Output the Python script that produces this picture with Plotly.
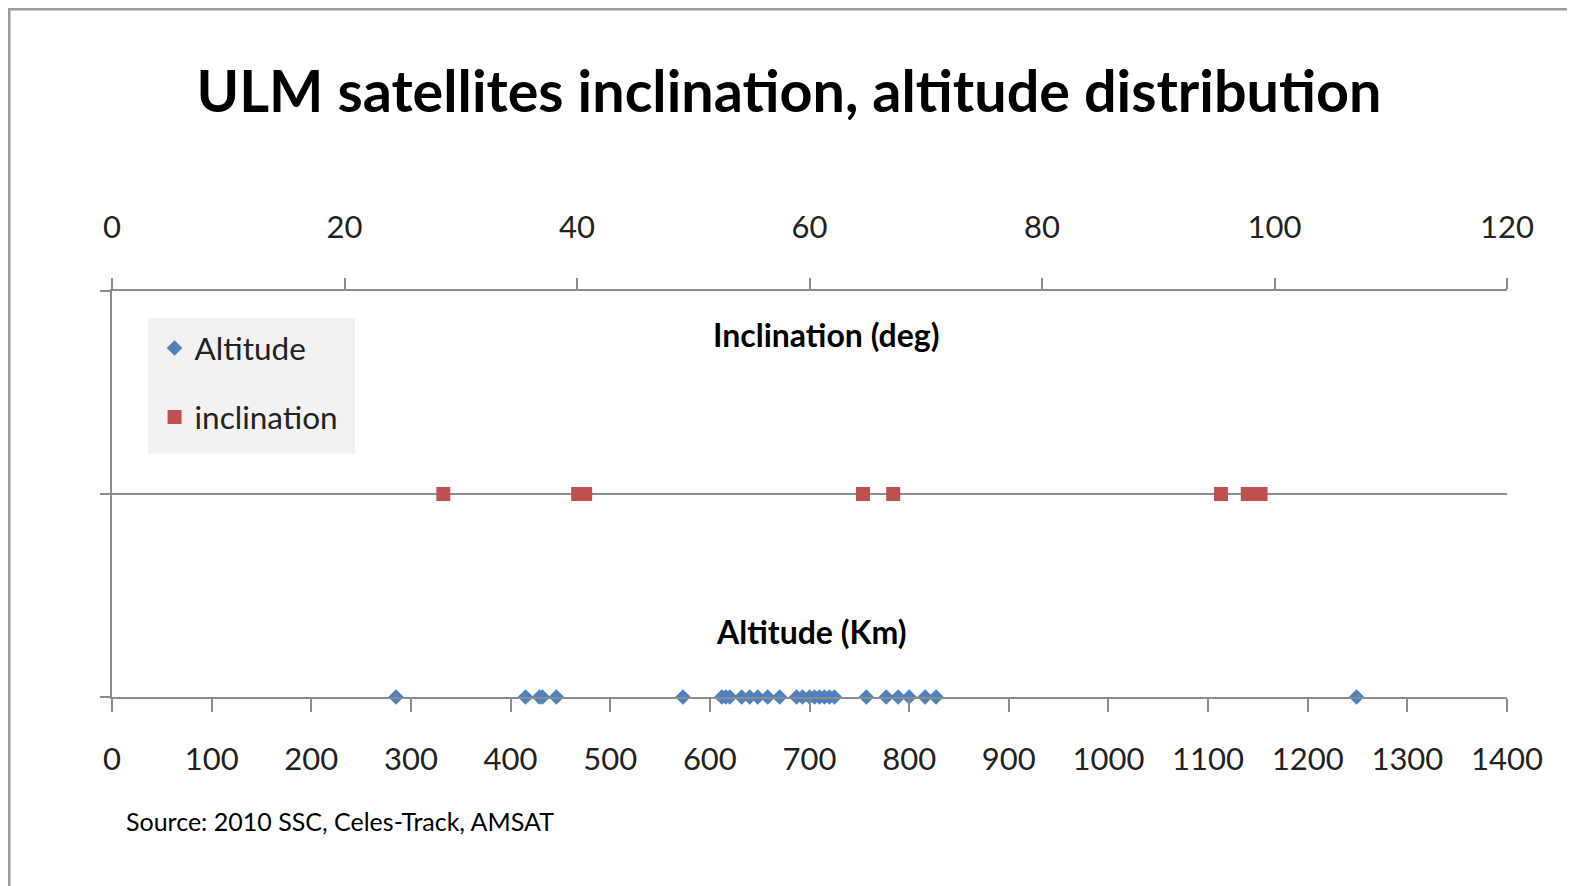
import plotly.graph_objects as go

# Data
altitude_km = [285, 415, 429, 432, 446, 573, 612, 616, 620, 632, 640, 648, 658, 670,
               687, 693, 700, 705, 710, 715, 720, 725, 757, 777, 789, 800, 816, 827, 1249]
altitude_row = [0] * len(altitude_km)
inclination_deg = [28.5, 40.1, 40.7, 64.6, 67.2, 95.4, 97.7, 98.3, 98.8]
inclination_row = [1] * len(inclination_deg)

alt_ticks = list(range(0, 1401, 100))
inc_ticks = list(range(0, 121, 20))

FONT = "Lato"
GRAY = "#8c8c8c"

W, H = 1567, 878
L, R, T, B = 104, 1499, 283, 689   # plot area in pixels


def px(x):
    return (x - L) / (R - L)


def py(y):
    return (B - y) / (B - T)


fig = go.Figure()
fig.add_trace(go.Scatter(
    x=altitude_km, y=altitude_row, mode="markers", name="Altitude",
    marker=dict(symbol="diamond", size=12, color="#4F81BD"),
    xaxis="x", yaxis="y", cliponaxis=False, legendgroup="a"))
fig.add_trace(go.Scatter(
    x=inclination_deg, y=inclination_row, mode="markers", name="inclination",
    marker=dict(symbol="square", size=14, color="#C0504D"),
    xaxis="x2", yaxis="y", cliponaxis=False, legendgroup="b"))

axis_common = dict(showline=True, linecolor=GRAY, linewidth=2, ticks="outside",
                   tickcolor=GRAY, tickwidth=2, showgrid=False, zeroline=False,
                   tickfont=dict(family=FONT, size=31, color="#222"))

fig.update_layout(
    width=W, height=H,
    paper_bgcolor="white", plot_bgcolor="white",
    margin=dict(l=L, r=W - R, t=T, b=H - B),
    title=dict(text="<b>ULM satellites inclination, altitude distribution</b>",
               x=0.4984, xanchor="center", y=0.904, yanchor="middle",
               font=dict(family=FONT, size=57.5, color="black")),
    xaxis=dict(range=[0, 1400], tickvals=alt_ticks, ticklen=13,
               ticklabelstandoff=21, anchor="y", **axis_common),
    xaxis2=dict(range=[0, 120], tickvals=inc_ticks, overlaying="x", side="top",
                ticklen=11, ticklabelstandoff=28, anchor="y", **axis_common),
    yaxis=dict(range=[0, 2], tickvals=[0, 1, 2], showticklabels=False,
               showline=True, linecolor=GRAY, linewidth=2, ticks="outside",
               ticklen=10, tickcolor=GRAY, tickwidth=2, showgrid=True,
               gridcolor=GRAY, gridwidth=2, zeroline=False),
    yaxis2=dict(range=[0, 2], tickvals=[0, 1, 2], showticklabels=False,
                overlaying="y", side="right", anchor="x",
                showline=True, linecolor=GRAY, linewidth=2, ticks="outside",
                ticklen=12, tickcolor=GRAY, tickwidth=2, showgrid=False, zeroline=False),
    legend=dict(x=0.0305, y=0.926, xanchor="left", yanchor="top",
                bgcolor="rgba(0,0,0,0)", font=dict(family=FONT, size=31.5, color="#222"),
                tracegroupgap=25, traceorder="grouped", itemsizing="trace"),
    showlegend=True,
)

fig.add_annotation(text="<b>Inclination (deg)</b>", x=0.5122, y=0.894, xref="paper", yref="paper",
                   xanchor="center", yanchor="middle", showarrow=False,
                   font=dict(family=FONT, size=32, color="black"))
fig.add_annotation(text="<b>Altitude (Km)</b>", x=0.5011, y=0.1625, xref="paper", yref="paper",
                   xanchor="center", yanchor="middle", showarrow=False,
                   font=dict(family=FONT, size=32, color="black"))
fig.add_annotation(text="Source: 2010 SSC, Celes-Track, AMSAT", x=0.0086, y=-0.306,
                   xref="paper", yref="paper", xanchor="left", yanchor="middle",
                   showarrow=False, font=dict(family=FONT, size=25, color="black"))

# legend background panel
fig.add_shape(type="rect", xref="paper", yref="paper",
              x0=0.0259, x1=0.1742, y0=0.600, y1=0.9333,
              fillcolor="#f2f2f2", line=dict(width=0), layer="below")

# chart-area border
fig.add_shape(type="rect", xref="paper", yref="paper",
              x0=px(1), x1=px(1565.5), y0=py(900), y1=py(1),
              line=dict(color="#9a9a9a", width=3), layer="below")

fig.write_html("out.html")
